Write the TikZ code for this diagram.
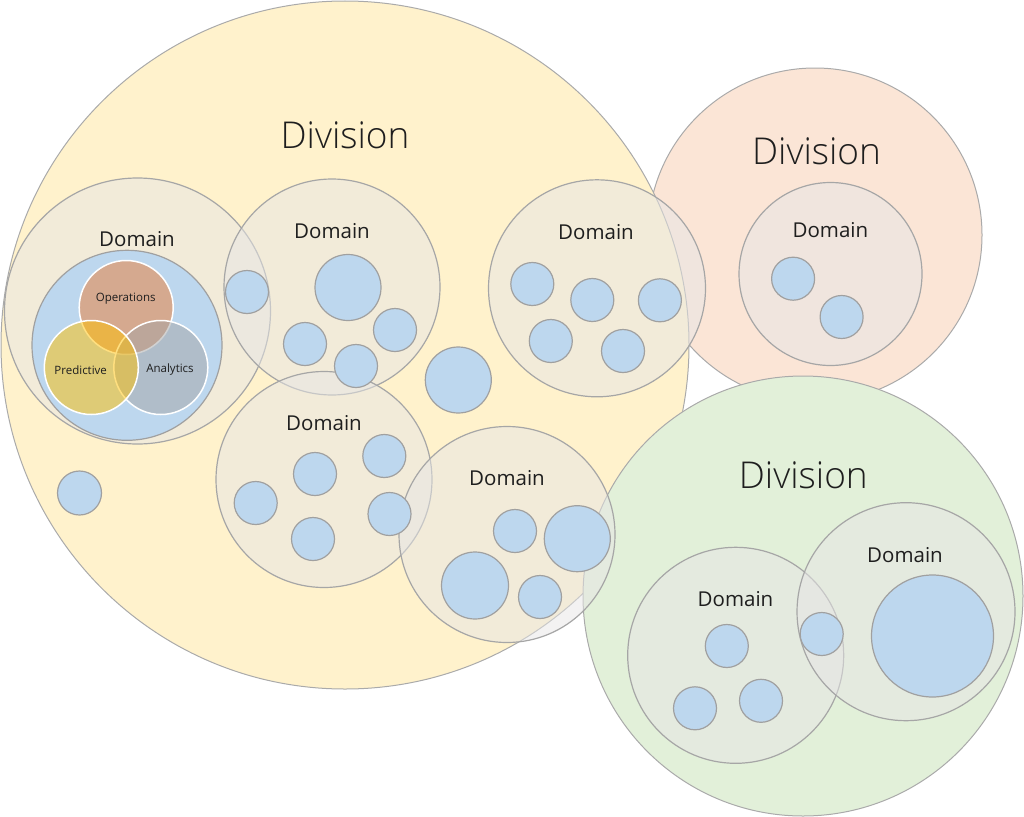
\documentclass[tikz,border=0pt]{standalone}
\usepackage{fontspec}
\setmainfont{Open Sans}
\IfFontExistsTF{Open Sans Light}{\newfontfamily\lightfont{Open Sans Light}}{\newfontfamily\lightfont{Open Sans}}
\definecolor{divyellow}{RGB}{255,242,204}
\definecolor{divorange}{RGB}{251,229,214}
\definecolor{divgreen}{RGB}{226,240,217}
\definecolor{divline}{RGB}{170,170,170}
\definecolor{domfill}{RGB}{231,230,230}
\definecolor{domline}{RGB}{166,166,166}
\definecolor{leafblue}{RGB}{189,215,238}
\definecolor{leafline}{RGB}{160,160,160}
\definecolor{opscol}{RGB}{237,125,49}
\definecolor{predcol}{RGB}{255,192,0}
\definecolor{anacol}{RGB}{165,165,165}
\definecolor{txt}{RGB}{30,30,30}
\begin{document}
\begin{tikzpicture}[x=1pt,y=-1pt,
  division/.style={draw=divline, line width=1pt},
  domainc/.style={draw=domline, fill=domfill, fill opacity=0.5, line width=1.2pt},
  leaf/.style={draw=leafline, fill=leafblue, line width=1.2pt},
  venn/.style={draw=white, line width=1.5pt, fill opacity=0.5},
  divlabel/.style={font=\lightfont\fontsize{37}{40}\selectfont, text=txt, inner sep=0pt},
  domlabel/.style={font=\fontsize{20.5}{24}\selectfont, text=txt, inner sep=0pt},
  vennlabel/.style={font=\fontsize{11.5}{13}\selectfont, text=txt, inner sep=0pt}]
\useasboundingbox (0,0) rectangle (1024,816);
% divisions
\draw[division, fill=divorange] (815,235) circle[radius=167pt];
\draw[division, fill=divyellow] (345,345) circle[radius=344pt];
\draw[division, fill=divgreen] (803,596) circle[radius=220pt];
% domains
\draw[domainc] (137.5,311) circle[radius=133pt];
\draw[domainc] (332,287) circle[radius=108pt];
\draw[domainc] (597,288.3) circle[radius=108.5pt];
\draw[domainc] (324,479.5) circle[radius=108pt];
\draw[domainc] (507,534.5) circle[radius=108pt];
\draw[domainc] (830.5,274) circle[radius=91.5pt];
\draw[domainc] (735.7,655.3) circle[radius=108pt];
\draw[domainc] (906,611.7) circle[radius=109pt];
% venn
\fill[leafblue, draw=leafline, line width=1.2pt] (127,345.3) circle[radius=95pt];
\filldraw[venn, fill=opscol] (126.2,307.5) circle[radius=47pt];
\filldraw[venn, fill=anacol] (160.8,367.5) circle[radius=47pt];
\filldraw[venn, fill=predcol] (91.3,367.5) circle[radius=47pt];
% leaves
\draw[leaf] (247,292) circle[radius=21.5pt];
\draw[leaf] (348,287.5) circle[radius=33pt];
\draw[leaf] (305,344) circle[radius=21.5pt];
\draw[leaf] (395,330) circle[radius=21.5pt];
\draw[leaf] (356,366) circle[radius=21.5pt];
\draw[leaf] (458.3,380) circle[radius=33pt];
\draw[leaf] (79.5,493) circle[radius=22pt];
\draw[leaf] (532.3,284) circle[radius=21.5pt];
\draw[leaf] (592.3,300) circle[radius=21.5pt];
\draw[leaf] (659.9,300.3) circle[radius=21.5pt];
\draw[leaf] (550.8,341) circle[radius=21.5pt];
\draw[leaf] (623,351) circle[radius=21.5pt];
\draw[leaf] (315,474) circle[radius=21.5pt];
\draw[leaf] (384.3,456) circle[radius=21.5pt];
\draw[leaf] (255.7,503) circle[radius=21.5pt];
\draw[leaf] (389.5,514) circle[radius=21.5pt];
\draw[leaf] (313,539) circle[radius=21.5pt];
\draw[leaf] (515,531) circle[radius=21.5pt];
\draw[leaf] (577.3,538.7) circle[radius=33pt];
\draw[leaf] (475,585.5) circle[radius=33.5pt];
\draw[leaf] (540,597) circle[radius=21.5pt];
\draw[leaf] (793.1,278.7) circle[radius=21.5pt];
\draw[leaf] (841.6,317) circle[radius=21.5pt];
\draw[leaf] (726.8,646) circle[radius=21.5pt];
\draw[leaf] (695,708.3) circle[radius=21.5pt];
\draw[leaf] (761,700.8) circle[radius=21.5pt];
\draw[leaf] (821.7,634) circle[radius=21.5pt];
\draw[leaf] (932.5,636) circle[radius=61pt];
% labels
\node[divlabel] (divA) at (345,135.5) {Division};
\node[divlabel] (divB) at (816.5,151.2) {Division};
\node[divlabel] (divC) at (803.3,475) {Division};
\node[domlabel] (domA) at (137,239) {Domain};
\node[domlabel] (domB) at (332,231) {Domain};
\node[domlabel] (domC) at (596,232) {Domain};
\node[domlabel] (domD) at (324,423.5) {Domain};
\node[domlabel] (domE) at (507,478.5) {Domain};
\node[domlabel] (domF) at (830.4,230) {Domain};
\node[domlabel] (domG) at (735.5,599.5) {Domain};
\node[domlabel] (domH) at (905,555.5) {Domain};
\node[vennlabel] (ops) at (125.7,298.3) {Operations};
\node[vennlabel] (pred) at (80.7,370) {Predictive};
\node[vennlabel] (ana) at (170,370) {Analytics};
\end{tikzpicture}
\end{document}
